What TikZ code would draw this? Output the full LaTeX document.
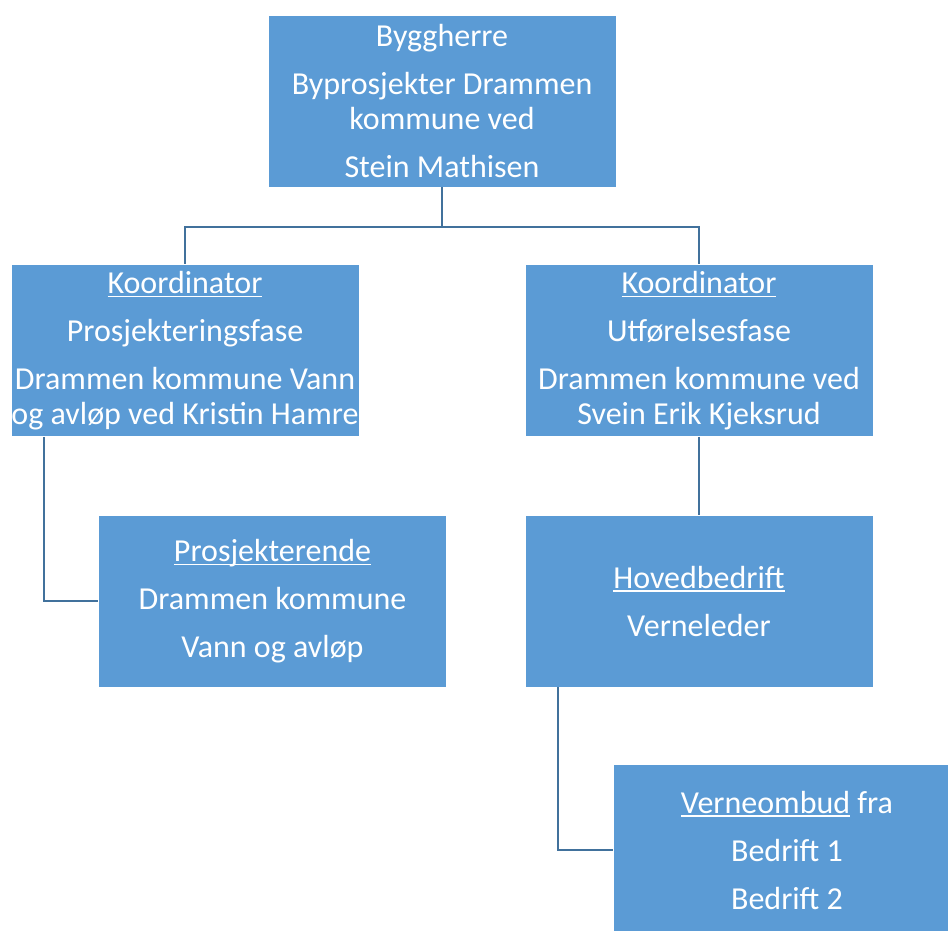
\documentclass[tikz,border=0pt]{standalone}
\usepackage{fontspec}
\setmainfont{Carlito}
\newcommand\myul[1]{\setbox0\hbox{#1}\rlap{\rule[-4pt]{\wd0}{1.6pt}}\box0\relax}
\definecolor{boxfill}{HTML}{5B9BD5}
\definecolor{conncol}{HTML}{41719C}
\begin{document}
\begin{tikzpicture}[x=1pt,y=-1pt,
  box/.style={fill=boxfill,draw=white,line width=0.8pt,text=white,align=center,
    minimum width=348pt,minimum height=172pt,inner sep=0pt,
    font=\fontsize{32}{35}\selectfont},
  conn/.style={draw=conncol,line width=2pt}]
\clip (0,0) rectangle (948,930);
\useasboundingbox (0,0) rectangle (948,930);
\node[box] (top) at (442,101) {Byggherre\\[13pt]Byprosjekter Drammen\\kommune ved\\[13pt]Stein Mathisen};
\node[box] (lc) at (185,350.5) {\myul{Koordinator}\\[13pt]Prosjekteringsfase\\[13pt]Drammen kommune Vann\\og avløp ved Kristin Hamre};
\node[box] (rc) at (699,350.5) {\myul{Koordinator}\\[13pt]Utførelsesfase\\[13pt]Drammen kommune ved\\Svein Erik Kjeksrud};
\node[box] (pj) at (272.5,601) {\myul{Prosjekterende}\\[13pt]Drammen kommune\\[13pt]Vann og avløp};
\node[box] (hb) at (699,601) {\myul{Hovedbedrift}\\[13pt]Verneleder};
\node[box] (vo) at (787,850) {\myul{Verneombud} fra\\[13pt]Bedrift 1\\[13pt]Bedrift 2};
\coordinate (j) at (442,227);
\draw[conn] (top.south) -- (j) -| (lc.north);
\draw[conn] (j) -| (rc.north);
\draw[conn] ([xshift=33pt]lc.south west) |- (pj.west);
\draw[conn] (rc.south) -- (hb.north);
\draw[conn] ([xshift=33pt]hb.south west) |- (vo.west);
\end{tikzpicture}
\end{document}
